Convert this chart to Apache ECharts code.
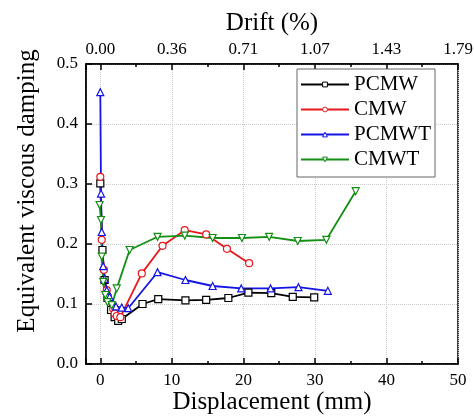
<!DOCTYPE html>
<html>
<head>
<meta charset="utf-8">
<script src="https://cdn.jsdelivr.net/npm/echarts@6/dist/echarts.min.js"></script>
<style>
  html, body { margin: 0; padding: 0; background: #fff; }
  #chart { width: 474px; height: 417px; }
</style>
</head>
<body>
<div id="chart"></div>
<script>
  // 数据：位移 (mm) 与 等效粘滞阻尼系数
  const seriesNames = ['PCMW', 'CMW', 'PCMWT', 'CMWT']
  const seriesColors = ['#000000', '#e8191c', '#1414e6', '#138f13']
  const pcmwX = [0, 0.3, 0.6, 1.0, 1.5, 2.0, 2.5, 3.0, 5.9, 8.1, 11.9, 14.8, 17.9, 20.7, 23.9, 26.9, 29.9]
  const pcmwY = [0.301, 0.19, 0.14, 0.11, 0.09, 0.078, 0.072, 0.075, 0.100, 0.108, 0.106, 0.107, 0.110, 0.119, 0.118, 0.112, 0.111]
  const cmwX = [0, 0.2, 0.5, 0.9, 1.8, 2.0, 2.3, 2.8, 5.8, 8.7, 11.8, 14.8, 17.7, 20.8]
  const cmwY = [0.312, 0.207, 0.157, 0.123, 0.092, 0.084, 0.08, 0.078, 0.151, 0.197, 0.223, 0.216, 0.192, 0.168]
  const pcmwtX = [0, 0.1, 0.2, 0.4, 0.6, 0.9, 1.3, 2.2, 3.0, 3.9, 8.0, 11.9, 15.7, 19.7, 23.8, 27.7, 31.8]
  const pcmwtY = [0.453, 0.284, 0.22, 0.163, 0.142, 0.123, 0.112, 0.096, 0.094, 0.093, 0.153, 0.14, 0.13, 0.126, 0.126, 0.128, 0.122]
  const cmwtX = [-0.1, 0.1, 0.2, 0.4, 0.7, 1.0, 1.6, 2.3, 4.1, 8.0, 11.8, 15.7, 19.8, 23.6, 27.6, 31.6, 35.7]
  const cmwtY = [0.265, 0.24, 0.179, 0.137, 0.115, 0.103, 0.098, 0.126, 0.19, 0.212, 0.214, 0.21, 0.21, 0.212, 0.205, 0.207, 0.288]
  // 顶部层间位移角刻度
  const driftLabels = ['0.00', '0.36', '0.71', '1.07', '1.43', '1.79']

  const serif = 'Liberation Serif'
  const zip = (xs, ys) => xs.map((x, i) => [x, ys[i]])

  const chart = echarts.init(document.getElementById('chart'))

  const axisCommon = {
    min: -2,
    max: 50,
    splitNumber: 5,
    axisLine: { show: true, onZero: false, lineStyle: { color: '#000', width: 1.5 } },
    axisTick: { show: true, inside: true, length: 6, lineStyle: { color: '#000', width: 1.5 } },
    minorTick: { show: true, splitNumber: 2, length: 3, lineStyle: { color: '#000', width: 1.5 } }
  }

  function makeSeries(name, xs, ys, color, symbol, rotate) {
    return {
      name: name,
      type: 'line',
      data: zip(xs, ys),
      symbol: symbol,
      symbolSize: 7,
      symbolRotate: rotate || 0,
      lineStyle: { color: color, width: 1.8 },
      itemStyle: { color: '#fff', borderColor: color, borderWidth: 1.2 },
      color: color,
      animation: false
    }
  }

  chart.setOption({
    backgroundColor: '#fff',
    grid: {
      left: 86,
      right: 16,
      top: 64,
      bottom: 53,
      outerBoundsMode: 'none',
      show: true,
      borderColor: '#000',
      borderWidth: 1.5
    },
    legend: {
      // 图例标记保持空心
      data: seriesNames.map((n, i) => ({
        name: n,
        itemStyle: { color: '#fff', borderColor: seriesColors[i], borderWidth: 1 }
      })),
      orient: 'vertical',
      left: 297,
      top: 69,
      padding: [5, 4, 7, 3],
      itemGap: 4,
      itemWidth: 48,
      itemHeight: 6,
      borderColor: '#666',
      borderWidth: 1,
      backgroundColor: '#fff',
      textStyle: { fontFamily: serif, fontSize: 21, color: '#000', lineHeight: 21 }
    },
    xAxis: [
      Object.assign({}, axisCommon, {
        type: 'value',
        position: 'bottom',
        name: 'Displacement (mm)',
        nameLocation: 'middle',
        nameGap: 26,
        nameMoveOverlap: false,
        nameTextStyle: { fontFamily: serif, fontSize: 25, color: '#000' },
        axisLabel: {
          fontFamily: serif, fontSize: 17, color: '#000', margin: 8,
          formatter: v => (v % 10 === 0 ? String(v) : '')
        },
        splitLine: { show: true, lineStyle: { color: '#ccc', type: 'dotted', width: 1 } }
      }),
      Object.assign({}, axisCommon, {
        type: 'value',
        position: 'top',
        name: 'Drift (%)',
        nameLocation: 'middle',
        nameGap: 28,
        nameTextStyle: { fontFamily: serif, fontSize: 25, color: '#000' },
        axisLabel: {
          fontFamily: serif, fontSize: 17, color: '#000', margin: 6,
          formatter: v => (v % 10 === 0 && v >= 0 ? driftLabels[v / 10] : '')
        },
        splitLine: { show: false }
      })
    ],
    yAxis: {
      type: 'value',
      min: 0,
      max: 0.5,
      interval: 0.1,
      name: 'Equivalent viscous damping',
      nameLocation: 'middle',
      nameGap: 46,
      nameTextStyle: { fontFamily: serif, fontSize: 25, color: '#000', padding: [0, 0, 0, 46] },
      axisLine: { show: true, onZero: false, lineStyle: { color: '#000', width: 1.5 } },
      axisTick: { show: true, inside: true, length: 6, lineStyle: { color: '#000', width: 1.5 } },
      axisLabel: { fontFamily: serif, fontSize: 17, color: '#000', margin: 8, formatter: v => v.toFixed(1) },
      splitLine: { show: true, lineStyle: { color: '#ccc', type: 'dotted', width: 1 } }
    },
    series: [
      makeSeries('PCMW', pcmwX, pcmwY, seriesColors[0], 'rect'),
      makeSeries('CMW', cmwX, cmwY, seriesColors[1], 'circle'),
      makeSeries('PCMWT', pcmwtX, pcmwtY, seriesColors[2], 'triangle'),
      makeSeries('CMWT', cmwtX, cmwtY, seriesColors[3], 'triangle', 180)
    ]
  })
</script>
</body>
</html>
